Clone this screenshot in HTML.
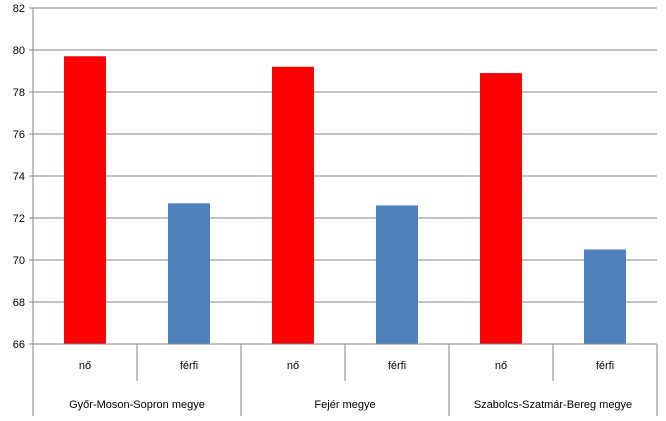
<!DOCTYPE html>
<html><head><meta charset="utf-8"><style>body{margin:0;background:#fff}svg text{font-family:"Liberation Sans",sans-serif;font-size:11px;fill:#000}</style></head>
<body>
<svg id="c" width="666" height="416"></svg>
<script>
const categories=["nő","férfi","nő","férfi","nő","férfi"];
const groups=["Győr-Moson-Sopron megye","Fejér megye","Szabolcs-Szatmár-Bereg megye"];
const values=[79.7,72.7,79.2,72.6,78.9,70.5];
const ticks=[66,68,70,72,74,76,78,80,82];
const colors=["#ff0000","#4f81bd"];
const svg=document.getElementById('c');const NS='http://www.w3.org/2000/svg';
const x0=33,x1=657,y0=344,y1=8,ymin=66,ymax=82;
const slot=(x1-x0)/categories.length;
function y(v){return y0-(v-ymin)/(ymax-ymin)*(y0-y1);}
function mk(t,a,txt){const e=document.createElementNS(NS,t);for(const k in a)e.setAttribute(k,a[k]);if(txt!=null)e.textContent=txt;svg.appendChild(e);return e;}
ticks.forEach(t=>{
 if(t>ymin){const g=mk('line',{x1:x0,x2:x1,y1:y(t),y2:y(t),stroke:'#868686'});
 
 }
 mk('line',{x1:x0-4,x2:x0,y1:y(t),y2:y(t),stroke:'#868686'});
 const l=mk('text',{x:x0-8,y:y(t)+4,'text-anchor':'end'},t);
 
 
});
values.forEach((v,i)=>{
 const cx=x0+slot*(i+0.5);
 const b=mk('rect',{x:cx-21,y:y(v),width:42,height:y0-y(v),fill:colors[i%2]});
 
 
 const l=mk('text',{x:cx,y:369,'text-anchor':'middle'},categories[i]);
 
 
 if(i%2==1)mk('line',{x1:x0+slot*i,x2:x0+slot*i,y1:y0,y2:381,stroke:'#868686'});
});
groups.forEach((g,j)=>{
 const l=mk('text',{x:x0+slot*(2*j+1),y:408,'text-anchor':'middle'},g);
 
 
 mk('line',{x1:x0+slot*2*(j+1),x2:x0+slot*2*(j+1),y1:y0,y2:416,stroke:'#868686'});
});
mk('line',{x1:x0,x2:x0,y1:y1,y2:416,stroke:'#868686'});
mk('line',{x1:x0,x2:x1,y1:y0,y2:y0,stroke:'#868686'});
</script>
</body></html>
